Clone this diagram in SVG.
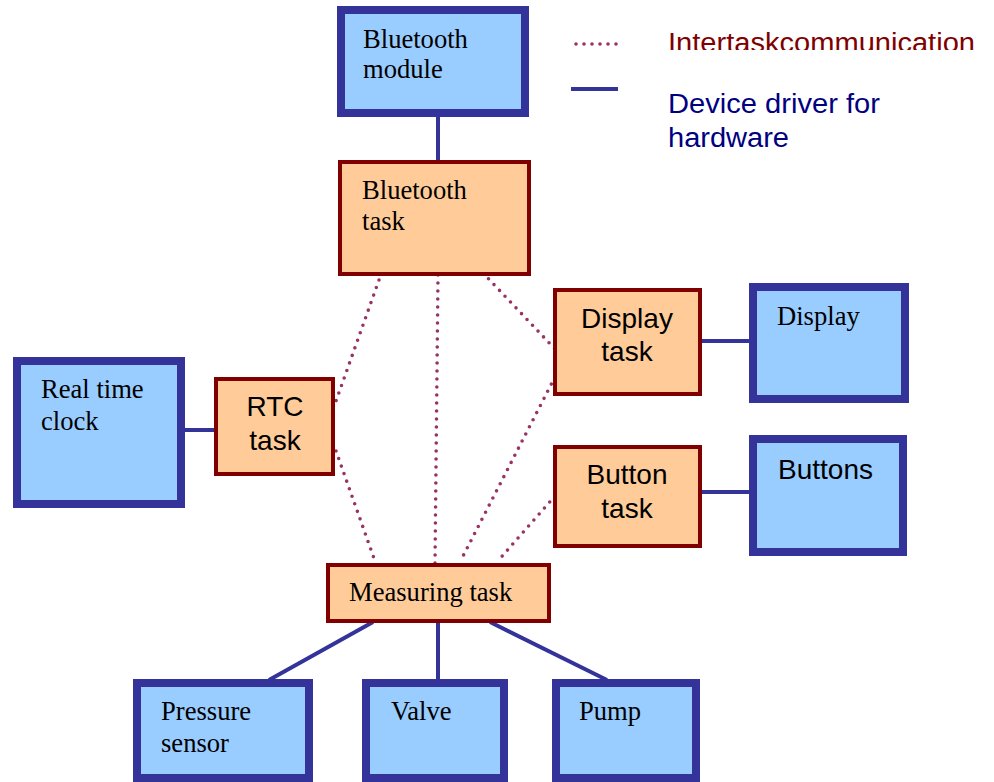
<svg xmlns="http://www.w3.org/2000/svg" width="994" height="782" viewBox="0 0 994 782">
  <style>
    .hw { fill: #99CCFF; stroke: #333399; stroke-width: 8; }
    .task { fill: #FFCC99; stroke: #800000; stroke-width: 4; }
    .serif { font-family: "Liberation Serif", "Times New Roman", serif; font-size: 26.6px; fill: #000; }
    .sans { font-family: "Liberation Sans", Arial, sans-serif; font-size: 28px; fill: #000; }
    .mid { text-anchor: middle; }
    .drv { stroke: #333399; stroke-width: 4; fill: none; }
    .ipc { stroke: #993366; stroke-width: 3.6; stroke-linecap: round; stroke-dasharray: 0 8; fill: none; }
    .legend { font-family: "Liberation Sans", Arial, sans-serif; font-size: 27px; }
  </style>
  <defs>
    <clipPath id="legendClip">
      <rect x="660" y="20" width="330" height="30"/>
    </clipPath>
  </defs>
  <rect width="994" height="782" fill="#ffffff"/>

  <!-- connectors -->
  <g id="connectors">
    <line class="drv" x1="438" y1="116" x2="438" y2="162"/>
    <line class="drv" x1="185" y1="430" x2="216" y2="430"/>
    <line class="drv" x1="702" y1="341" x2="749" y2="341"/>
    <line class="drv" x1="702" y1="492" x2="749" y2="492"/>
    <line class="drv" x1="373" y1="622" x2="269" y2="680"/>
    <line class="drv" x1="438" y1="622" x2="438" y2="680"/>
    <line class="drv" x1="490" y1="622" x2="607" y2="680"/>

    <line class="ipc" x1="379" y1="280" x2="336" y2="401"/>
    <line class="ipc" x1="438" y1="275" x2="435" y2="563"/>
    <line class="ipc" x1="483" y1="273" x2="555" y2="349"/>
    <line class="ipc" x1="555" y1="377" x2="460" y2="562"/>
    <line class="ipc" x1="336" y1="451" x2="376" y2="564"/>
    <line class="ipc" x1="555" y1="496" x2="497" y2="562"/>
  </g>

  <!-- legend -->
  <g id="legend">
    <line class="ipc" x1="576" y1="44" x2="618" y2="44" stroke-dasharray="0 8.4"/>
    <line stroke="#333399" stroke-width="4" x1="571" y1="89" x2="618" y2="89"/>
    <text class="legend" x="668" y="52" fill="#800000" textLength="307" lengthAdjust="spacingAndGlyphs" clip-path="url(#legendClip)">Intertaskcommunication</text>
    <text class="legend" x="668" y="113" fill="#000080" textLength="212" lengthAdjust="spacingAndGlyphs">Device driver for</text>
    <text class="legend" x="668" y="147" fill="#000080" textLength="121" lengthAdjust="spacingAndGlyphs">hardware</text>
  </g>

  <!-- hardware nodes -->
  <g id="bluetooth-module">
    <rect class="hw" x="341" y="10" width="184" height="103"/>
    <text class="serif" x="363" y="48">Bluetooth</text>
    <text class="serif" x="363" y="78">module</text>
  </g>
  <g id="real-time-clock">
    <rect class="hw" x="17" y="361" width="164" height="143"/>
    <text class="serif" x="41" y="398">Real time</text>
    <text class="serif" x="41" y="430">clock</text>
  </g>
  <g id="display">
    <rect class="hw" x="753" y="287" width="152" height="112"/>
    <text class="serif" x="777" y="325">Display</text>
  </g>
  <g id="buttons">
    <rect class="hw" x="753" y="439" width="150" height="113"/>
    <text class="sans" x="778" y="479">Buttons</text>
  </g>
  <g id="pressure-sensor">
    <rect class="hw" x="137" y="683" width="172" height="95"/>
    <text class="serif" x="161" y="720">Pressure</text>
    <text class="serif" x="161" y="752">sensor</text>
  </g>
  <g id="valve">
    <rect class="hw" x="366" y="683" width="138" height="95"/>
    <text class="serif" x="391" y="720">Valve</text>
  </g>
  <g id="pump">
    <rect class="hw" x="556" y="683" width="140" height="95"/>
    <text class="serif" x="579" y="720">Pump</text>
  </g>

  <!-- task nodes -->
  <g id="bluetooth-task">
    <rect class="task" x="340" y="162" width="189" height="112"/>
    <text class="serif" x="362" y="199">Bluetooth</text>
    <text class="serif" x="362" y="230">task</text>
  </g>
  <g id="rtc-task">
    <rect class="task" x="216" y="379" width="117" height="95"/>
    <text class="sans mid" x="275" y="416">RTC</text>
    <text class="sans mid" x="275" y="450">task</text>
  </g>
  <g id="display-task">
    <rect class="task" x="555" y="290" width="145" height="104"/>
    <text class="sans mid" x="627" y="328">Display</text>
    <text class="sans mid" x="627" y="361">task</text>
  </g>
  <g id="button-task">
    <rect class="task" x="555" y="447" width="145" height="99"/>
    <text class="sans mid" x="627" y="484">Button</text>
    <text class="sans mid" x="627" y="518">task</text>
  </g>
  <g id="measuring-task">
    <rect class="task" x="328" y="565" width="221" height="56"/>
    <text class="serif" x="349" y="601">Measuring task</text>
  </g>
</svg>
